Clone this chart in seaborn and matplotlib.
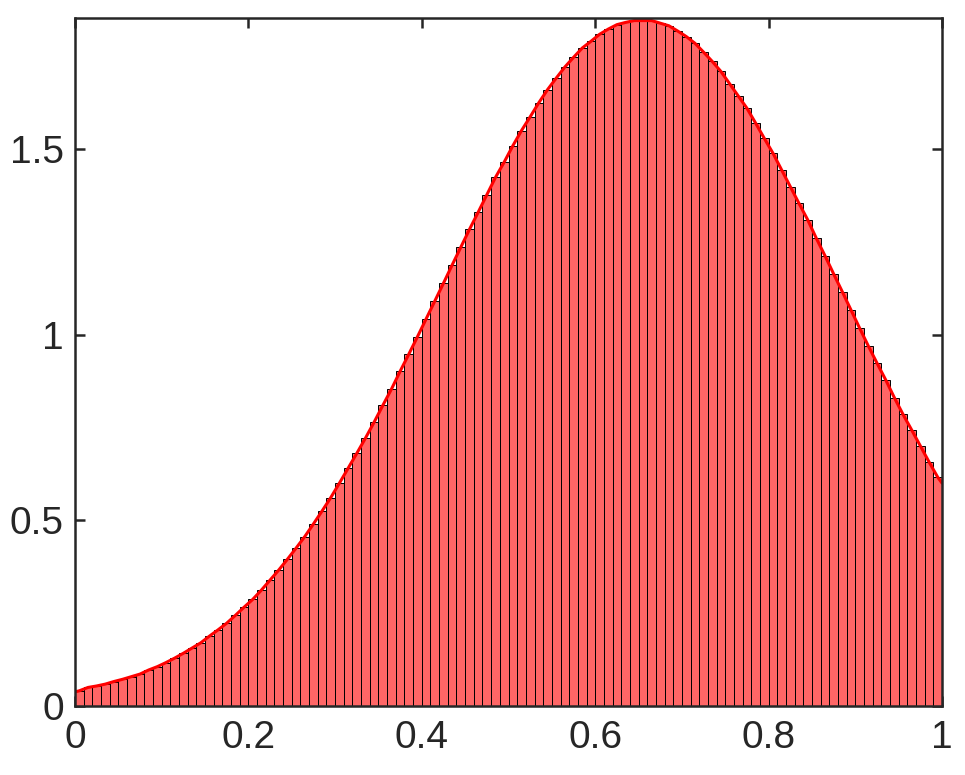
import numpy as np
import pandas as pd
import matplotlib
matplotlib.use("Agg")
import matplotlib.pyplot as plt
import seaborn as sns

# bar heights, 100 bins of width 0.01 on [0, 1]
bin_edges = np.linspace(0, 1, 101)
bin_centers = (bin_edges[:-1] + bin_edges[1:]) / 2
heights = [
    0.041, 0.050, 0.054, 0.059, 0.066, 0.072, 0.079, 0.086, 0.097, 0.106,
    0.117, 0.129, 0.142, 0.156, 0.170, 0.188, 0.205, 0.223, 0.244, 0.266,
    0.287, 0.312, 0.339, 0.366, 0.395, 0.425, 0.456, 0.490, 0.525, 0.561,
    0.600, 0.640, 0.680, 0.721, 0.764, 0.809, 0.853, 0.901, 0.947, 0.994,
    1.042, 1.090, 1.138, 1.187, 1.235, 1.283, 1.329, 1.376, 1.423, 1.464,
    1.508, 1.549, 1.586, 1.624, 1.659, 1.690, 1.720, 1.746, 1.771, 1.789,
    1.808, 1.822, 1.834, 1.840, 1.845, 1.845, 1.845, 1.838, 1.831, 1.817,
    1.802, 1.784, 1.760, 1.735, 1.708, 1.675, 1.642, 1.609, 1.569, 1.528,
    1.488, 1.443, 1.398, 1.353, 1.309, 1.259, 1.212, 1.163, 1.115, 1.066,
    1.017, 0.969, 0.923, 0.878, 0.830, 0.785, 0.743, 0.700, 0.657, 0.616,
]

# red density curve: ends read at x=0 and x=1, bar centres in between
curve_x = [0.0] + list(bin_centers) + [1.0]
curve_y = [0.038] + heights + [0.600]

xticks = [0, 0.2, 0.4, 0.6, 0.8, 1]
xticklabels = ["0", "0.2", "0.4", "0.6", "0.8", "1"]
yticks = [0, 0.5, 1, 1.5]
yticklabels = ["0", "0.5", "1", "1.5"]

bars = pd.DataFrame({"x": bin_centers, "h": heights})
curve = pd.DataFrame({"x": curve_x, "y": curve_y})

sns.set_theme(style="white")
plt.rcParams["font.family"] = ["Liberation Sans", "DejaVu Sans"]

fig = plt.figure(figsize=(9.65, 7.75), dpi=100)
ax = fig.add_axes([0.0777, 0.089, 0.8985, 0.8878])

sns.histplot(data=bars, x="x", weights="h", bins=list(bin_edges), stat="count",
             color="#ff6666", alpha=1, edgecolor="black", linewidth=0.7, ax=ax)
sns.lineplot(data=curve, x="x", y="y", color="red", linewidth=2.2, ax=ax)

ax.set_xlim(0, 1)
ax.set_ylim(0, 1.852)
ax.set_xticks(xticks)
ax.set_xticklabels(xticklabels)
ax.set_yticks(yticks)
ax.set_yticklabels(yticklabels)
ax.set_xlabel("")
ax.set_ylabel("")

for s in ax.spines.values():
    s.set_visible(True)
    s.set_color("#262626")
    s.set_linewidth(1.8)
ax.tick_params(direction="in", length=7, width=1.8, color="#262626",
               labelsize=28, labelcolor="#262626",
               top=True, right=True, bottom=True, left=True)
ax.tick_params(axis="x", pad=10)
ax.tick_params(axis="y", pad=8)

fig.savefig("out.png", dpi=100)
